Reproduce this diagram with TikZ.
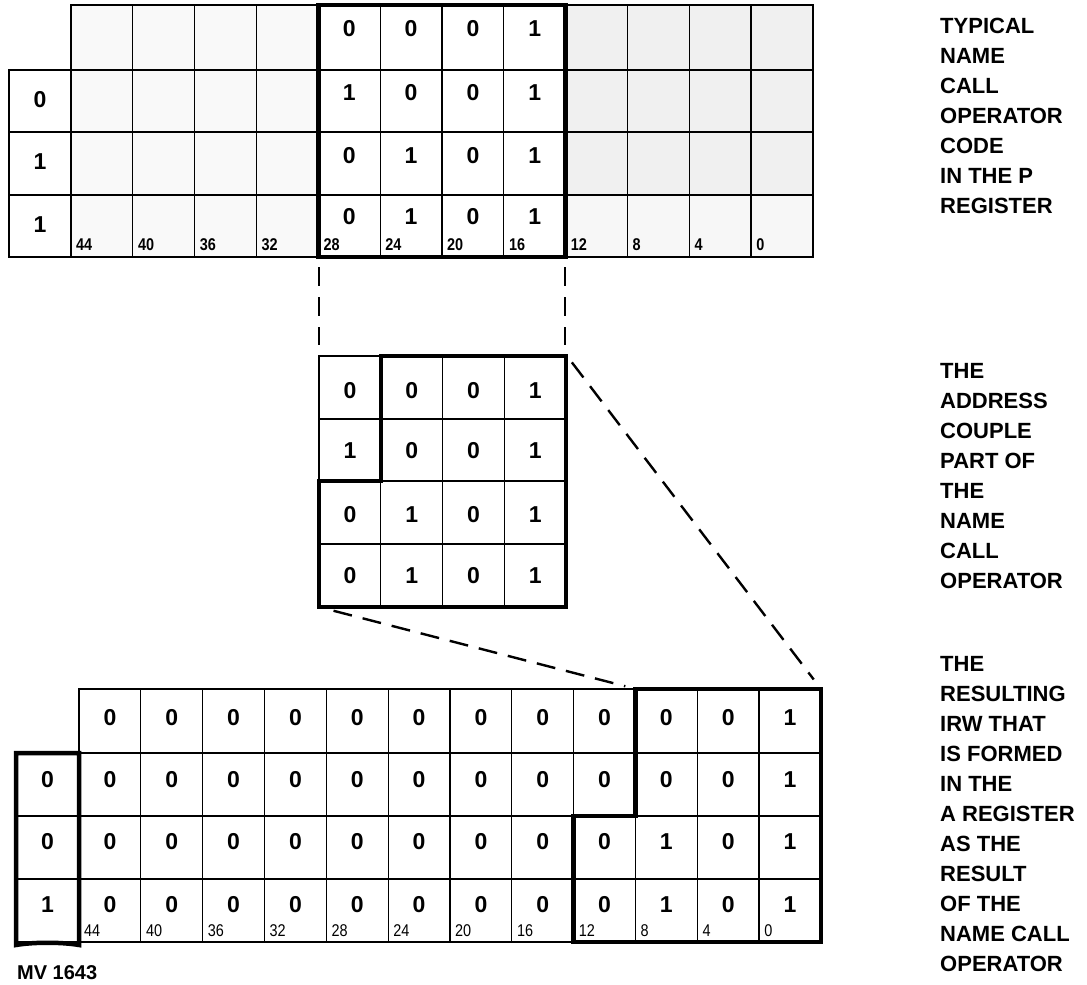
\documentclass[tikz,border=0pt]{standalone}
\usepackage{fontspec}
\setmainfont{Liberation Sans}
\newfontfamily\narrowfont[FakeStretch=0.85]{Liberation Sans}
\tikzset{
  innerln/.style={line width=1.3pt},
  outerln/.style={line width=2.2pt, line join=miter},
  hilite/.style={line width=4.5pt, line join=miter, line cap=rect},
  conn/.style={line width=2.4pt, dash pattern=on 19pt off 11pt},
  digit/.style={font=\bfseries\fontsize{23}{23}\selectfont, inner sep=0pt},
  topbit/.style={font=\narrowfont\bfseries\fontsize{17}{17}\selectfont, anchor=base west, inner sep=0pt},
  botbit/.style={font=\narrowfont\fontsize{17}{17}\selectfont, anchor=base west, inner sep=0pt},
  side/.style={font=\bfseries\fontsize{22}{22}\selectfont, anchor=base west, inner sep=0pt},
}
\begin{document}
\begin{tikzpicture}[x=1pt,y=-1pt]
\useasboundingbox (0,0) rectangle (1087,985);
\fill[white] (0,0) rectangle (1087,985);
\def\cw{61.83}
% ================= TOP GRID (P register) =================
\fill[gray!12] (565.7,5) rectangle (813,195);
\fill[gray!6] (565.7,195) rectangle (813,257);
\fill[gray!5] (71,5) rectangle (318.3,257);
\foreach \y in {70,132,195} \draw[innerln] (9,\y) -- (813,\y);
\draw[innerln] (71,70) -- (71,257);
\foreach \k in {1,...,11} \draw[innerln] ({71+\k*\cw},5) -- ({71+\k*\cw},257);
\draw[outerln] (71,5) -- (813,5) -- (813,257) -- (9,257) -- (9,70) -- (71,70) -- cycle;
\draw[hilite] (318.3,5) rectangle (565.7,257);
% flags
\node[digit] (tf2) at (40,99.8) {0};
\node[digit] (tf3) at (40,162) {1};
\node[digit] (tf4) at (40,224.8) {1};
% bits
\foreach \b [count=\c from 4] in {0,0,0,1} \node[digit] (t-1-\c) at ({71+\c*\cw+\cw/2},28.4) {\b};
\foreach \b [count=\c from 4] in {1,0,0,1} \node[digit] (t-2-\c) at ({71+\c*\cw+\cw/2},93) {\b};
\foreach \b [count=\c from 4] in {0,1,0,1} \node[digit] (t-3-\c) at ({71+\c*\cw+\cw/2},155.3) {\b};
\foreach \b [count=\c from 4] in {0,1,0,1} \node[digit] (t-4-\c) at ({71+\c*\cw+\cw/2},216.7) {\b};
\foreach \n [count=\c from 0] in {44,40,36,32,28,24,20,16,12,8,4,0}
  \node[topbit] (tl\c) at ({71+\c*\cw+5},250) {\n};
% ================= MIDDLE GRID =================
\foreach \y in {419,481,544} \draw[innerln] (319,\y) -- (566,\y);
\foreach \x in {380.75,442.5,504.25} \draw[innerln] (\x,356) -- (\x,607);
\draw[outerln] (319,356) rectangle (566,607);
\draw[hilite] (381,356) -- (566,356) -- (566,607) -- (319,607) -- (319,481) -- (381,481) -- cycle;
\foreach \b [count=\c from 0] in {0,0,0,1} \node[digit] (m-1-\c) at ({319+\c*61.75+30.9},390.6) {\b};
\foreach \b [count=\c from 0] in {1,0,0,1} \node[digit] (m-2-\c) at ({319+\c*61.75+30.9},451) {\b};
\foreach \b [count=\c from 0] in {0,1,0,1} \node[digit] (m-3-\c) at ({319+\c*61.75+30.9},514.4) {\b};
\foreach \b [count=\c from 0] in {0,1,0,1} \node[digit] (m-4-\c) at ({319+\c*61.75+30.9},576) {\b};
% ================= BOTTOM GRID (A register) =================
\foreach \y in {753,816,879} \draw[innerln] (16,\y) -- (821,\y);
\draw[innerln] (79,689) -- (79,942);
\foreach \k in {1,...,11} \draw[innerln] ({79+\k*\cw},689) -- ({79+\k*\cw},942);
\draw[outerln] (79,689) -- (821,689) -- (821,942) -- (16,942) -- (16,753) -- (79,753) -- cycle;
\draw[hilite] (16,753) -- (79,753) -- (79,945) .. controls (62,942) and (33,942) .. (16,945) -- cycle;
\draw[hilite] (635.5,689) -- (821,689) -- (821,942) -- (573.6,942) -- (573.6,816) -- (635.5,816) -- cycle;
\node[digit] (bf2) at (47.5,780) {0};
\node[digit] (bf3) at (47.5,841.8) {0};
\node[digit] (bf4) at (47.5,904.8) {1};
\foreach \b [count=\c from 0] in {0,0,0,0,0,0,0,0,0,0,0,1} \node[digit] (b-1-\c) at ({79+\c*\cw+\cw/2},717.8) {\b};
\foreach \b [count=\c from 0] in {0,0,0,0,0,0,0,0,0,0,0,1} \node[digit] (b-2-\c) at ({79+\c*\cw+\cw/2},780) {\b};
\foreach \b [count=\c from 0] in {0,0,0,0,0,0,0,0,0,1,0,1} \node[digit] (b-3-\c) at ({79+\c*\cw+\cw/2},841.8) {\b};
\foreach \b [count=\c from 0] in {0,0,0,0,0,0,0,0,0,1,0,1} \node[digit] (b-4-\c) at ({79+\c*\cw+\cw/2},904.8) {\b};
\foreach \n [count=\c from 0] in {44,40,36,32,28,24,20,16,12,8,4,0}
  \node[botbit] (bl\c) at ({79+\c*\cw+5},936) {\n};
% ================= CONNECTORS =================
\coordinate (tpL) at (319,257);
\coordinate (tpR) at (565,257);
\coordinate (mdTL) at (319,356);
\coordinate (mdTR) at (565,356);
\coordinate (mdCR) at (567,356);
\coordinate (mdBL) at (319,607);
\coordinate (btA) at (636,689);
\coordinate (btTR) at (821,689);
\draw[conn, shorten <=10pt, shorten >=11pt] (tpL) -- (mdTL);
\draw[conn, shorten <=10pt, shorten >=11pt] (tpR) -- (mdTR);
\draw[conn, shorten <=8pt, shorten >=12pt] (mdCR) -- (btTR);
\draw[conn, shorten <=15pt, shorten >=11pt] (mdBL) -- (btA);
% ================= SIDE TEXT =================
\foreach \t [count=\i from 0] in {TYPICAL,NAME,CALL,OPERATOR,CODE,IN THE P,REGISTER}
  \node[side] (sa\i) at (940,{33+30*\i}) {\t};
\foreach \t [count=\i from 0] in {THE,ADDRESS,COUPLE,PART OF,THE,NAME,CALL,OPERATOR}
  \node[side] (sb\i) at (940,{378+30*\i}) {\t};
\foreach \t [count=\i from 0] in {THE,RESULTING,IRW THAT,IS FORMED,IN THE,A REGISTER,AS THE,RESULT,OF THE,NAME CALL,OPERATOR}
  \node[side] (sc\i) at (940,{671+30*\i}) {\t};
\node[font=\bfseries\fontsize{20}{20}\selectfont, anchor=base west, inner sep=0pt] (mv) at (17,979) {MV 1643};
\end{tikzpicture}
\end{document}
